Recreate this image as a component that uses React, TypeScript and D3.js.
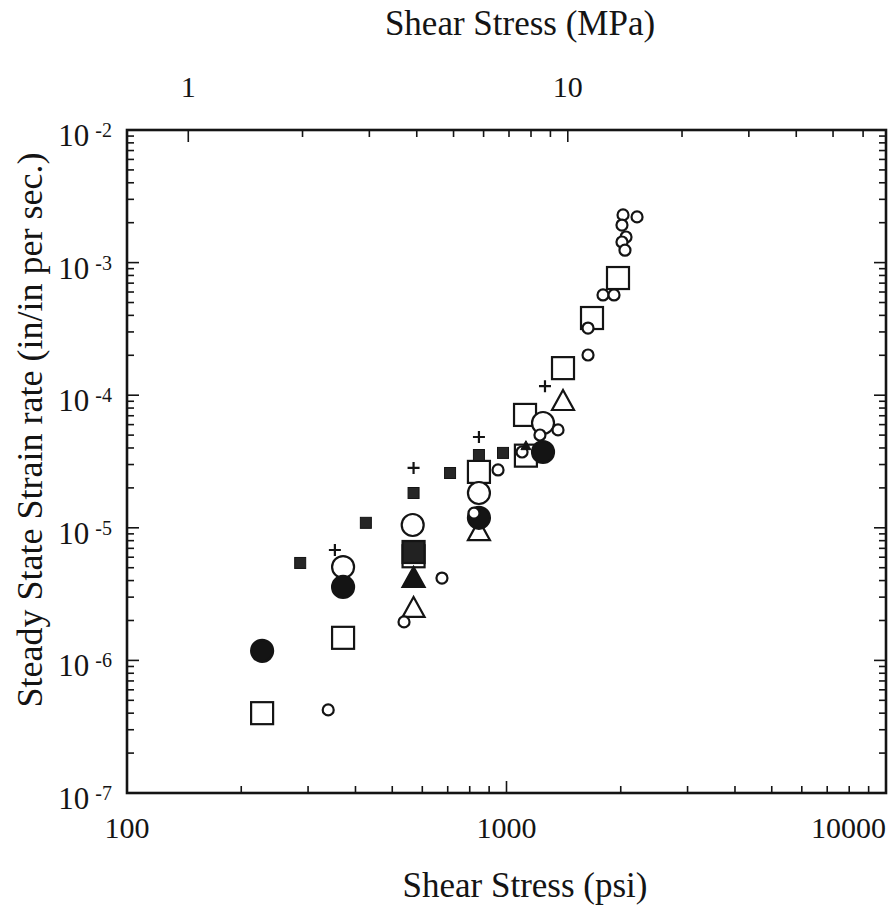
import React from 'react'
import * as d3 from 'd3'

// [shear stress (psi), steady state strain rate (1/s)]
const openSquares = [
  [227, 4.0e-7], [371, 1.48e-6], [569, 6.1e-6], [846, 2.64e-5],
  [1125, 3.5e-5], [1119, 7.1e-5], [1409, 1.6e-4], [1680, 3.82e-4], [1967, 7.65e-4],
]
const filledCircles = [
  [227, 1.18e-6], [371, 3.58e-6], [846, 1.19e-5], [1248, 3.73e-5],
]
const openCircles = [
  [371, 5.06e-6], [566, 1.05e-5], [846, 1.83e-5], [1248, 6.17e-5],
]
const smallOpenCircles = [
  [339, 4.23e-7], [537, 1.95e-6], [676, 4.18e-6], [821, 1.29e-5], [950, 2.73e-5],
  [1099, 3.73e-5], [1225, 5.01e-5], [1367, 5.47e-5], [1640, 2.01e-4], [1640, 3.21e-4],
  [1796, 5.7e-4], [1920, 5.7e-4], [2028, 2.29e-3], [2208, 2.21e-3], [2015, 1.92e-3],
  [2065, 1.56e-3], [2015, 1.43e-3], [2052, 1.24e-3],
]
const smallFilledSquares = [
  [286, 5.43e-6], [426, 1.09e-5], [569, 1.83e-5], [710, 2.59e-5], [846, 3.54e-5], [979, 3.67e-5],
]
const filledSquares = [[569, 6.57e-6]]
const pluses = [[353, 6.8e-6], [569, 2.83e-5], [846, 4.84e-5], [1263, 1.17e-4]]
const openTriangles = [[569, 2.53e-6], [846, 9.6e-6], [1409, 9.2e-5]]
const filledTriangles = [[569, 4.26e-6]]
const smallFilledTriangles = [[1125, 4.2e-5]]

const bottomLabels = [100, 1000, 10000]
const topLabels = [1, 10]
const yExponents = [-2, -3, -4, -5, -6, -7]

const PSI_PER_MPA = 145.038
const font = '"Liberation Serif", "Times New Roman", serif'
const ink = '#141414'

const x = d3.scaleLog().domain([100, 10000]).range([127, 886])
const xTop = d3.scaleLog().domain([100 / PSI_PER_MPA, 10000 / PSI_PER_MPA]).range([127, 886])
const y = d3.scaleLog().domain([1e-7, 1e-2]).range([793, 130])

const isMajor = (v: number) => Math.abs(Math.log10(v) - Math.round(Math.log10(v))) < 1e-6

const tri = (cx: number, cy: number, w: number, h: number) =>
  `M${cx},${cy - h / 2}L${cx + w / 2},${cy + h / 2}L${cx - w / 2},${cy + h / 2}Z`

export default function App() {
  const [x0, x1] = x.range()
  const [y0, y1] = y.range()
  const sw = 2.2

  return (
    <svg width={888} height={916} style={{ position: 'absolute', left: 0, top: 0, background: '#fff' }}
      fontFamily={font} fill={ink}>
      <rect width={888} height={916} fill="#fff" />

      {/* frame */}
      <rect x={x0} y={y1} width={x1 - x0} height={y0 - y1} fill="none" stroke={ink} strokeWidth={2.6} />

      {/* bottom ticks */}
      {x.ticks().map((t, i) => (
        <line key={'b' + i} x1={x(t)} x2={x(t)} y1={y0} y2={y0 - (isMajor(t) ? 12 : 7)} stroke={ink} strokeWidth={1.6} />
      ))}
      {/* top ticks (MPa) */}
      {xTop.ticks().filter(t => t >= 1 - 1e-9).map((t, i) => (
        <line key={'t' + i} x1={xTop(t)} x2={xTop(t)} y1={y1} y2={y1 + (isMajor(t) ? 12 : 7)} stroke={ink} strokeWidth={1.6} />
      ))}
      {/* left and right ticks */}
      {y.ticks().map((t, i) => (
        <g key={'y' + i}>
          <line x1={x0} x2={x0 + (isMajor(t) ? 12 : 7)} y1={y(t)} y2={y(t)} stroke={ink} strokeWidth={1.6} />
          <line x1={x1} x2={x1 - (isMajor(t) ? 12 : 7)} y1={y(t)} y2={y(t)} stroke={ink} strokeWidth={1.6} />
        </g>
      ))}

      {/* tick labels */}
      {bottomLabels.map((v, i) => (
        <text key={v} x={i === bottomLabels.length - 1 ? 886 : x(v)} y={838} fontSize={30}
          textAnchor={i === bottomLabels.length - 1 ? 'end' : 'middle'}>{v}</text>
      ))}
      {topLabels.map(v => (
        <text key={v} x={xTop(v)} y={97} fontSize={30} textAnchor="middle">{v}</text>
      ))}
      {yExponents.map(e => (
        <text key={e} x={112} y={y(Math.pow(10, e)) + 16} fontSize={31} textAnchor="end">
          10<tspan fontSize={20} dx={6} dy={-9}>{e}</tspan>
        </text>
      ))}

      {/* axis titles */}
      <text x={520} y={35} fontSize={35} textAnchor="middle">Shear Stress (MPa)</text>
      <text x={525} y={897} fontSize={35} textAnchor="middle">Shear Stress (psi)</text>
      <text transform="translate(42,430) rotate(-90)" fontSize={36} textAnchor="middle">
        Steady State Strain rate (in/in per sec.)
      </text>

      {/* markers */}
      <g stroke={ink} strokeWidth={sw}>
        {openTriangles.map((d, i) => (
          <path key={'ot' + i} d={tri(x(d[0]), y(d[1]), 22, 20)} fill="#fff" />
        ))}
        {openSquares.map((d, i) => (
          <rect key={'os' + i} x={x(d[0]) - 11} y={y(d[1]) - 11} width={22} height={22} fill="#fff" />
        ))}
        {filledSquares.map((d, i) => (
          <rect key={'fs' + i} x={x(d[0]) - 11} y={y(d[1]) - 11} width={22} height={22} fill="#222" />
        ))}
        {smallFilledSquares.map((d, i) => (
          <rect key={'sfs' + i} x={x(d[0]) - 5.5} y={y(d[1]) - 5.5} width={11} height={11} fill="#262626" strokeWidth={1} />
        ))}
        {filledTriangles.map((d, i) => (
          <path key={'ft' + i} d={tri(x(d[0]), y(d[1]), 22, 20)} fill={ink} />
        ))}
        {openCircles.map((d, i) => (
          <circle key={'oc' + i} cx={x(d[0])} cy={y(d[1])} r={11} fill="#fff" />
        ))}
        {filledCircles.map((d, i) => (
          <circle key={'fc' + i} cx={x(d[0])} cy={y(d[1])} r={11} fill={ink} />
        ))}
        {smallOpenCircles.map((d, i) => (
          <circle key={'soc' + i} cx={x(d[0])} cy={y(d[1])} r={5.5} fill="#fff" />
        ))}
        {smallFilledTriangles.map((d, i) => (
          <path key={'sft' + i} d={tri(x(d[0]), y(d[1]), 10, 9)} fill={ink} strokeWidth={1} />
        ))}
        {pluses.map((d, i) => {
          const cx = x(d[0]), cy = y(d[1])
          return <path key={'p' + i} d={`M${cx - 6},${cy}H${cx + 6}M${cx},${cy - 6}V${cy + 6}`} fill="none" />
        })}
      </g>
    </svg>
  )
}
